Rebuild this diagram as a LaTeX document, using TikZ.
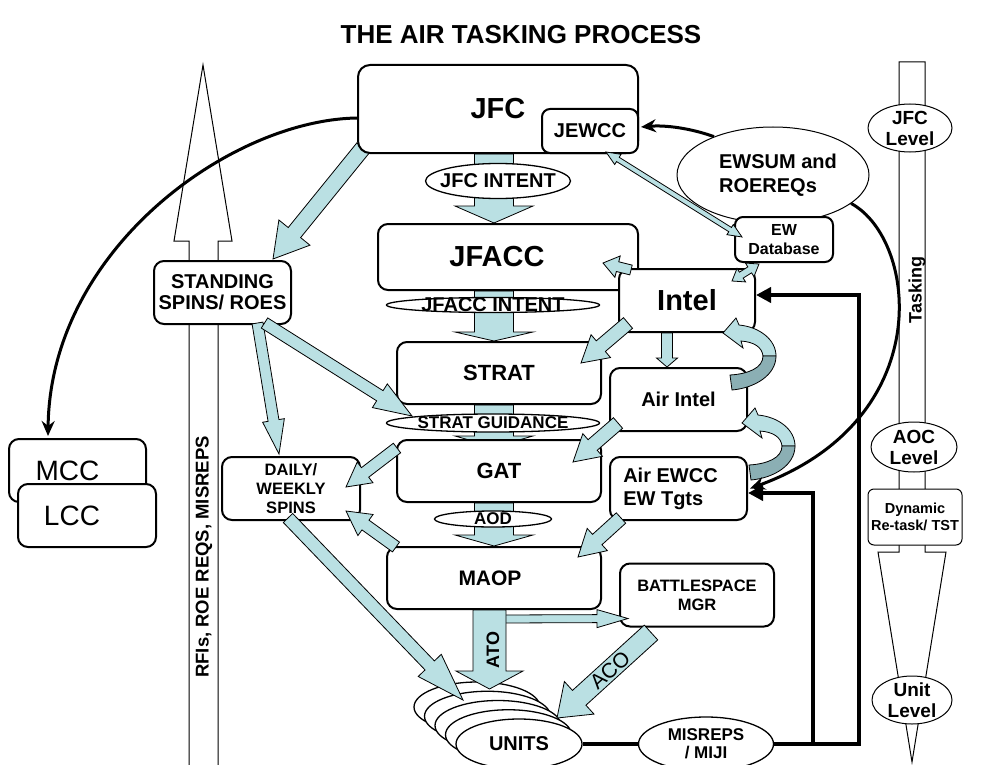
\documentclass[tikz,border=0pt]{standalone}
\usepackage{fontspec}
\setmainfont{Liberation Sans}
\usetikzlibrary{arrows.meta,positioning,calc,shapes.geometric}

\definecolor{arrowblue}{RGB}{186,224,227}
\definecolor{arrowdark}{RGB}{139,175,180}

\pgfdeclarelayer{back}
\pgfsetlayers{back,main}

% block arrow: [options]{from}{to}{shaft half width}{head half width}{head length}
\newcommand{\blockarrow}[6][]{%
  \coordinate (ba-s) at (#2);
  \coordinate (ba-t) at (#3);
  \coordinate (ba-h) at ($(ba-t)!#6!(ba-s)$);
  \draw[blockarrow,#1]
    ($(ba-s)!#4!90:(ba-t)$) -- ($(ba-h)!#4!90:(ba-t)$) --
    ($(ba-h)!#5!90:(ba-t)$) -- (ba-t) --
    ($(ba-h)!#5!-90:(ba-t)$) -- ($(ba-h)!#4!-90:(ba-t)$) --
    ($(ba-s)!#4!-90:(ba-t)$) -- cycle;}
% same with a head at both ends
\newcommand{\twowayarrow}[6][]{%
  \coordinate (ba-s) at (#2);
  \coordinate (ba-t) at (#3);
  \coordinate (ba-h) at ($(ba-t)!#6!(ba-s)$);
  \coordinate (ba-g) at ($(ba-s)!#6!(ba-t)$);
  \draw[blockarrow,#1] (ba-s) --
    ($(ba-g)!#5!90:(ba-t)$) -- ($(ba-g)!#4!90:(ba-t)$) --
    ($(ba-h)!#4!90:(ba-t)$) -- ($(ba-h)!#5!90:(ba-t)$) -- (ba-t) --
    ($(ba-h)!#5!-90:(ba-t)$) -- ($(ba-h)!#4!-90:(ba-t)$) --
    ($(ba-g)!#4!-90:(ba-t)$) -- ($(ba-g)!#5!-90:(ba-t)$) -- cycle;}

\begin{document}
\begin{tikzpicture}[x=1pt,y=-1pt,
    txt/.style 2 args={font=\bfseries\fontsize{#1}{#2}\selectfont,align=center},
    plain/.style 2 args={font=\fontsize{#1}{#2}\selectfont,align=center},
    box/.style={draw=black,line width=2pt,fill=white,rounded corners=10pt,
      inner sep=0pt,align=center},
    oval/.style={ellipse,draw=black,line width=1.3pt,fill=white,inner sep=0pt},
    blockarrow/.style={draw=black,line width=0.8pt,fill=arrowblue,line join=miter},
    outline/.style={draw=black,line width=1pt,fill=white},
    curve/.style={-{Stealth[length=15pt,width=13pt]},line width=3pt},
    feedback/.style={line width=4pt},
    feedtip/.style={-{Triangle[length=15pt,width=15pt]}}
  ]
  \useasboundingbox (0,0) rectangle (998,765);
  \coordinate (spine) at (494,0);

  \node[txt={26}{28}] (title) at (521,35) {THE AIR TASKING PROCESS};

  % side columns
  \begin{pgfonlayer}{back}
    \fill[white] (0,0) rectangle (998,765);
    \draw[outline] (189,770) -- (189,241) -- (174,241) -- (203,65)
      -- (232,241) -- (218,241) -- (218,770);
    \draw[outline] (899,552) -- (899,62) -- (925,62) -- (925,552)
      -- (946,552) -- (912,762) -- (878,552) -- cycle;
  \end{pgfonlayer}
  \node[txt={18.5}{20},rotate=90] (rfis) at (204,557) {RFIs, ROE REQS, MISREPS};
  \node[oval,line width=1pt,minimum width=84pt,minimum height=48pt,
    label={[txt={19}{21}]center:JFC\\Level}] (jfclevel) at (910,128) {};
  \node[txt={18}{20},rotate=90] (tasking) at (917,290) {Tasking};
  \node[oval,line width=1pt,minimum width=86pt,minimum height=50pt,
    label={[txt={19}{21}]center:AOC\\Level}] (aoclevel) at (914,447) {};
  \node[box,line width=1pt,rounded corners=6pt,minimum width=94pt,
    minimum height=56pt,txt={14.5}{17}] (dynamic) at (915,517) {Dynamic\\Re-task/ TST};
  \node[oval,line width=1pt,minimum width=80pt,minimum height=48pt,
    label={[txt={19}{21}]center:Unit\\Level}] (unitlevel) at (912,700) {};

  % central chain
  \node[box,minimum width=280pt,minimum height=88pt,rounded corners=12pt,
    txt={29}{32}] (jfc) at (498,109) {JFC};
  \node[box,minimum width=96pt,minimum height=44pt,rounded corners=8pt,
    txt={20}{22}] (jewcc) at (590,131) {JEWCC};
  \node[oval,minimum width=145pt,minimum height=35pt,
    label={[txt={20}{22}]center:JFC INTENT}] (jfcintent) at (498,181) {};
  \node[box,minimum width=260pt,minimum height=66pt,
    label={[txt={29}{32},xshift=-11pt]center:JFACC}] (jfacc) at (508,257) {};
  \node[oval,minimum width=213pt,minimum height=15pt,
    label={[txt={20}{22}]center:JFACC INTENT}] (jfaccintent) at (493,305) {};
  \node[box,minimum width=204pt,minimum height=62pt,txt={22}{24}] (strat) at (499,373) {STRAT};
  \node[oval,minimum width=213pt,minimum height=18pt,
    label={[txt={17}{19}]center:STRAT GUIDANCE}] (stratguid) at (493,423) {};
  \node[box,minimum width=204pt,minimum height=62pt,txt={22}{24}] (gat) at (499,471) {GAT};
  \node[oval,minimum width=117pt,minimum height=16pt,
    label={[txt={17}{19}]center:AOD}] (aod) at (493,519) {};
  \node[box,minimum width=214pt,minimum height=62pt,
    label={[txt={21}{24},xshift=-4pt]center:MAOP}] (maop) at (494,578) {};
  \node[box,minimum width=154pt,minimum height=63pt,txt={16.5}{19}] (bsm) at (697,595) {BATTLESPACE\\MGR};

  % left side
  \node[box,minimum width=137pt,minimum height=63pt,txt={20}{21}] (standing) at (222.5,292.5) {STANDING\\SPINS/ ROES};
  \node[box,minimum width=138pt,minimum height=63pt,txt={16.5}{19}] (daily) at (291,488.5) {DAILY/\\WEEKLY\\SPINS};
  \node[box,minimum width=137pt,minimum height=63pt,
    label={[plain={28}{30},xshift=-10pt]center:MCC}] (mcc) at (77.5,470.5) {};
  \node[box,minimum width=138pt,minimum height=63pt,
    label={[plain={28}{30},xshift=-15pt]center:LCC}] (lcc) at (87,515.5) {};

  % intel side
  \node[box,minimum width=136pt,minimum height=63pt,txt={29}{32}] (intel) at (687,300.5) {Intel};
  \node[oval,line width=1pt,minimum width=192pt,minimum height=96pt,
    label={[txt={20}{24},align=left,xshift=5pt]center:EWSUM and\\ROEREQs}] (ewsum) at (773,175) {};
  \node[box,minimum width=98pt,minimum height=45pt,rounded corners=8pt,
    txt={16}{19}] (ewdb) at (784,239.5) {EW\\Database};
  \node[box,minimum width=137pt,minimum height=63pt,txt={20}{22}] (airintel) at (678.5,399.5) {Air Intel};
  \node[box,minimum width=137pt,minimum height=63pt,
    label={[txt={20}{23},align=left,xshift=-8pt]center:Air EWCC\\EW Tgts}] (airewcc) at (678.5,488.5) {};

  % units stack
  \foreach \k in {4,3,2,1}
    \node[oval,minimum width=126pt,minimum height=50pt] (unit\k) at ({519-10.5*\k},{744-9.25*\k}) {};
  \node[oval,minimum width=126pt,minimum height=50pt,
    label={[txt={20}{22}]center:UNITS}] (units) at (519,744) {};
  \node[oval,minimum width=135pt,minimum height=54pt,
    label={[txt={17}{18}]center:MISREPS\\/ MIJI}] (misreps) at (706,744) {};

  % arrows under the boxes and ovals
  \begin{pgfonlayer}{back}
    \blockarrow{spine |- jfc.south}{spine |- jfacc.north}{19.5pt}{39pt}{17pt}
    \blockarrow{spine |- jfacc.south}{spine |- strat.north}{19.5pt}{39pt}{9pt}
    \blockarrow{spine |- strat.south}{$(spine |- gat.north)+(0,8)$}{19.5pt}{39pt}{11pt}
    \blockarrow{spine |- gat.south}{spine |- maop.north}{19.5pt}{39pt}{11pt}
    \blockarrow{$(jfc.south west)+(6,-6)$}{$(standing.north east)+(-19,-1)$}{8pt}{20pt}{34pt}
  \end{pgfonlayer}

  % arrows over the boxes
  \blockarrow{$(standing.south)+(35,-2)$}{$(daily.north west)+(58,-2)$}{5.5pt}{11pt}{34pt}
  \blockarrow{$(standing.south)+(42,-2)$}{$(stratguid.center)+(-81,-7)$}{6pt}{14pt}{38pt}
  \blockarrow{$(gat.west)+(1,-23)$}{$(daily.east)+(-15,-1.5)$}{6pt}{13pt}{24pt}
  \blockarrow{$(maop.north west)+(10,1)$}{$(daily.south east)+(-15,-10)$}{6pt}{13pt}{24pt}
  \blockarrow{$(daily.south)+(-3,-3)$}{$(unit4.center)+(-14,-7)$}{6.5pt}{16pt}{48pt}
  \blockarrow{$(intel.south west)+(10,-10)$}{$(strat.east)+(-21,-10)$}{7pt}{15pt}{26pt}
  \blockarrow{$(airintel.south west)+(9,-9)$}{$(gat.east)+(-29,-9)$}{7pt}{15pt}{26pt}
  \blockarrow{$(airewcc.south west)+(12,-3)$}{$(maop.north east)+(-24,11)$}{7pt}{15pt}{26pt}
  \blockarrow{$(intel.north west)+(13,2)$}{$(jfacc.south east)+(-36,-28)$}{5pt}{11pt}{15pt}
  \blockarrow{$(intel.south)+(-20,0)$}{$(airintel.north)+(-11.5,0)$}{5.5pt}{10.5pt}{9pt}
  \twowayarrow{$(intel.north east)+(-24,13)$}{$(ewdb.south west)+(25,1)$}{3.5pt}{8pt}{11pt}
  \twowayarrow{$(jewcc.south)+(16,-2)$}{$(ewdb.west)+(8,-2.5)$}{2.5pt}{6pt}{14pt}
  \blockarrow{$(maop.south)+(9,9)$}{$(bsm.south west)+(9,-9)$}{4pt}{9pt}{31pt}
  \blockarrow{$(maop.south)+(-4.5,0)$}{$(maop.south)+(-4.5,79)$}{16.5pt}{33.5pt}{18pt}
  \node[txt={18}{20},rotate=90] (ato) at (493,650) {ATO};
  \blockarrow{$(bsm.south west)+(32,5)$}{$(units.center)+(38,-26)$}{10pt}{22pt}{30pt}
  \node[plain={21}{23},rotate=42] (aco) at (610,670) {ACO};

  % curved intel loops
  \foreach \dx/\dy in {0/0,19/90} {
    \begin{scope}[shift={(\dx,\dy)}]
      \draw[blockarrow] (723,333) -- (736,318) -- (739,325)
        .. controls (760,327) and (776,340) .. (776,356) -- (763,356)
        .. controls (762,347) and (754,342) .. (741,341) -- (743,348) -- cycle;
      \draw[blockarrow,fill=arrowdark] (776,356)
        .. controls (776,375) and (755,388) .. (732,390) -- (730,375)
        .. controls (748,374) and (763,368) .. (763,356) -- cycle;
    \end{scope}
  }

  % black connectors
  \draw[curve] ($(jfc.west)+(0,9)$) .. controls (230,120) and (50,250)
    .. ($(mcc.north west)+(40,-2)$);
  \draw[curve] (ewsum.147) .. controls (690,128) and (665,125) .. ($(jewcc.east)+(2,-4)$);
  \draw[curve] (ewsum.-20) .. controls (918,240) and (938,420) .. ($(airewcc.east)+(2,0)$);
  \coordinate (fbcorner) at (859,744);
  \coordinate (fbbranch) at (813,744);
  \draw[feedback] (units.east) -- (misreps.west);
  \draw[feedback,feedtip] (misreps.east) -- (fbcorner) |- ($(intel.east)+(0,-5.5)$);
  \draw[feedback,feedtip] (fbbranch) |- ($(airewcc.east)+(0,4.5)$);
\end{tikzpicture}
\end{document}
